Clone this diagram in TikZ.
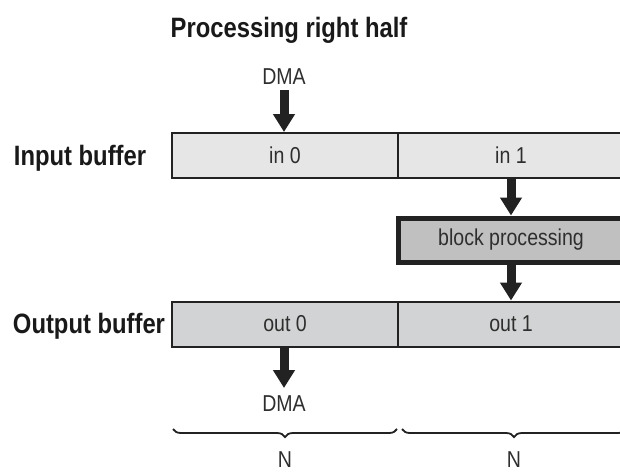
\documentclass[tikz,border=0pt]{standalone}
\usepackage{fontspec}
\setmainfont[FakeStretch=0.85]{Liberation Sans}
\usetikzlibrary{arrows.meta,decorations.pathreplacing}
\definecolor{inbuf}{HTML}{E6E6E6}
\definecolor{outbuf}{HTML}{D2D3D4}
\definecolor{blockc}{HTML}{C0C0C0}
\definecolor{edge}{HTML}{222222}
\definecolor{txt}{HTML}{2E2E2E}
\tikzset{
  cell/.style={draw=edge, line width=2pt, minimum width=226pt, minimum height=45pt, inner sep=0pt, font=\fontsize{23}{23}\selectfont, text=txt},
  blockbox/.style={draw=edge, line width=5pt, fill=blockc, minimum width=225pt, minimum height=44pt, inner sep=0pt, font=\fontsize{23}{23}\selectfont, text=txt},
  lbl/.style={font=\fontsize{23}{23}\selectfont, text=txt, inner sep=0pt},
  heading/.style={font=\bfseries\fontsize{28}{28}\selectfont, text=black!90, inner sep=0pt},
  bigarrow/.style={draw=edge, line width=9pt, -{Triangle[width=21pt,length=18pt]}},
  bracestyle/.style={draw=edge, line width=1.8pt, decorate, decoration={brace, mirror, amplitude=8pt}}
}
\begin{document}
\begin{tikzpicture}[x=1pt,y=-1pt]
\useasboundingbox (0,0) rectangle (620,472);
\clip (0,0) rectangle (620,472);
\fill[white] (0,0) rectangle (620,472);
% title
\node[heading] (title) at (289,30) {Processing right half};
% input buffer
\node[heading, anchor=center] (inlabel) at (80,158) {Input buffer};
\node[cell, fill=inbuf] (in0) at (285,155.5) {in 0};
\node[cell, fill=inbuf] (in1) at (511,155.5) {in 1};
% block processing
\node[blockbox] (block) at (511,240) {block processing};
% output buffer
\node[heading] (outlabel) at (89,326) {Output buffer};
\node[cell, fill=outbuf] (out0) at (285,324) {out 0};
\node[cell, fill=outbuf] (out1) at (511,324) {out 1};
% DMA labels
\node[lbl] (dmain) at (284,77) {DMA};
\node[lbl] (dmaout) at (284,404) {DMA};
% arrows
\coordinate (a1s) at (284,90);
\draw[bigarrow] (a1s) -- (in0.north -| a1s);
\draw[bigarrow] (in1.south) -- (block.north);
\draw[bigarrow] (block.south) -- (out1.north);
\coordinate (a4e) at (284,388);
\draw[bigarrow] (out0.south -| a4e) -- (a4e);
% braces
\coordinate (b1a) at (173,429);
\coordinate (b1b) at (397,429);
\coordinate (b2a) at (402,429);
\coordinate (b2b) at (626,429);
\draw[bracestyle] (b1a) -- (b1b);
\draw[bracestyle] (b2a) -- (b2b);
\node[lbl] (n1) at (285,460) {N};
\node[lbl] (n2) at (514,460) {N};
\end{tikzpicture}
\end{document}
